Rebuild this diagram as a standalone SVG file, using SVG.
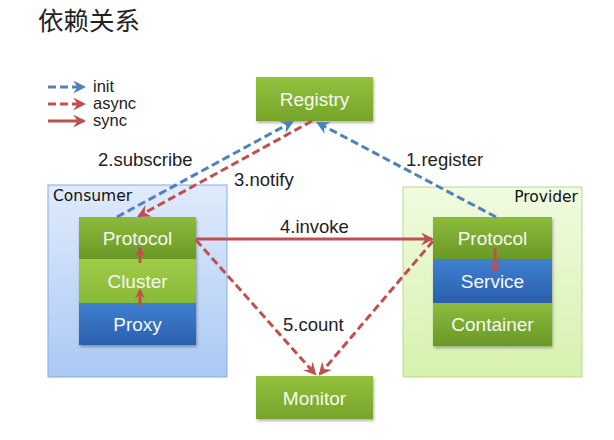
<svg xmlns="http://www.w3.org/2000/svg" width="614" height="440" viewBox="0 0 614 440">
<style>
  .lbl{font-family:"Liberation Sans",Arial,sans-serif;font-size:18.5px;fill:#222}
  .leg{font-family:"Liberation Sans",Arial,sans-serif;font-size:16.5px;fill:#222}
  .wt{font-family:"Liberation Sans",Arial,sans-serif;font-size:19px;fill:#f6f9f0;text-anchor:middle}
  .grp{font-family:"DejaVu Sans","Liberation Sans",sans-serif;font-size:15.5px;fill:#111}
  .blue{stroke:#4f81bd;stroke-width:3;fill:none;stroke-dasharray:8 4}
  .redd{stroke:#c0504d;stroke-width:3;fill:none;stroke-dasharray:8 4}
  .reds{stroke:#c0504d;stroke-width:3;fill:none}
</style>
<defs>
  <linearGradient id="gG" x1="0" y1="0" x2="0" y2="1"><stop offset="0" stop-color="#93c13c"/><stop offset="1" stop-color="#76a42b"/></linearGradient>
  <linearGradient id="gD" x1="0" y1="0" x2="0" y2="1"><stop offset="0" stop-color="#8cbb3c"/><stop offset="1" stop-color="#6a9827"/></linearGradient>
  <linearGradient id="gL" x1="0" y1="0" x2="0" y2="1"><stop offset="0" stop-color="#a0cc48"/><stop offset="1" stop-color="#88b837"/></linearGradient>
  <linearGradient id="gB" x1="0" y1="0" x2="0" y2="1"><stop offset="0" stop-color="#3f80d0"/><stop offset="1" stop-color="#2a5fad"/></linearGradient>
  <linearGradient id="gC" x1="0" y1="0" x2="0" y2="1"><stop offset="0" stop-color="#e0ebfc"/><stop offset="1" stop-color="#abc9f4"/></linearGradient>
  <linearGradient id="gP" x1="0" y1="0" x2="0" y2="1"><stop offset="0" stop-color="#f0fbe0"/><stop offset="1" stop-color="#d6f1ad"/></linearGradient>
  <filter id="sh" x="-10%" y="-10%" width="130%" height="140%"><feDropShadow dx="1" dy="2" stdDeviation="1.5" flood-color="#000" flood-opacity="0.3"/></filter>
  <marker id="aB" viewBox="0 0 12 12" refX="10" refY="6" markerWidth="13" markerHeight="13" markerUnits="userSpaceOnUse" orient="auto"><path d="M0,0 L12,6 L0,12 L4,6 z" fill="#4f81bd"/></marker>
  <marker id="aR" viewBox="0 0 12 12" refX="10" refY="6" markerWidth="13" markerHeight="13" markerUnits="userSpaceOnUse" orient="auto"><path d="M0,0 L12,6 L0,12 L4,6 z" fill="#c0504d"/></marker>
  <marker id="aRs" viewBox="0 0 12 12" refX="10" refY="6" markerWidth="10" markerHeight="10" markerUnits="userSpaceOnUse" orient="auto"><path d="M0,0 L12,6 L0,12 L4,6 z" fill="#c0504d"/></marker>
</defs>
<rect width="614" height="440" fill="#fff"/>
<text x="38" y="30" font-family="'Noto Sans CJK SC',sans-serif" font-size="25.5" fill="#222">依赖关系</text>

<g id="legend">
  <line class="blue" x1="48" y1="87" x2="84" y2="87" marker-end="url(#aB)"/>
  <line class="redd" x1="48" y1="104" x2="84" y2="104" marker-end="url(#aR)"/>
  <line class="reds" x1="48" y1="121" x2="84" y2="121" marker-end="url(#aR)"/>
  <text class="leg" x="93" y="92">init</text>
  <text class="leg" x="93" y="109">async</text>
  <text class="leg" x="93" y="126">sync</text>
</g>

<g id="consumer">
  <rect x="48" y="185" width="179" height="192" fill="url(#gC)" stroke="#86ace0" stroke-width="1"/>
  <text class="grp" x="53" y="201">Consumer</text>
  <g filter="url(#sh)">
    <rect x="79" y="217" width="117" height="42" fill="url(#gD)"/>
    <rect x="79" y="259" width="117" height="44" fill="url(#gL)"/>
    <rect x="79" y="303" width="117" height="42" fill="url(#gB)"/>
  </g>
  <text class="wt" x="137.5" y="245">Protocol</text>
  <text class="wt" x="137.5" y="288">Cluster</text>
  <text class="wt" x="137.5" y="331">Proxy</text>
</g>

<g id="provider">
  <rect x="403" y="187" width="179" height="190" fill="url(#gP)" stroke="#b9da92" stroke-width="1"/>
  <text class="grp" x="578" y="202" text-anchor="end">Provider</text>
  <g filter="url(#sh)">
    <rect x="433" y="217" width="119" height="42" fill="url(#gD)"/>
    <rect x="433" y="259" width="119" height="44" fill="url(#gB)"/>
    <rect x="433" y="303" width="119" height="43" fill="url(#gD)"/>
  </g>
  <text class="wt" x="492.5" y="245">Protocol</text>
  <text class="wt" x="492.5" y="288">Service</text>
  <text class="wt" x="492.5" y="331">Container</text>
</g>

<g id="registry">
  <rect x="256" y="77" width="117" height="44" fill="url(#gG)" filter="url(#sh)"/>
  <text class="wt" x="314.5" y="106">Registry</text>
</g>

<g id="monitor">
  <rect x="256" y="376" width="117" height="43" fill="url(#gG)" filter="url(#sh)"/>
  <text class="wt" x="314.5" y="405">Monitor</text>
</g>

<g id="connectors">
  <line class="blue" x1="117" y1="217" x2="292" y2="122" marker-end="url(#aB)"/>
  <line class="redd" x1="312" y1="121" x2="139" y2="216" marker-end="url(#aR)"/>
  <line class="blue" x1="496" y1="217" x2="318" y2="123" marker-end="url(#aB)"/>
  <line class="reds" x1="196" y1="239" x2="432" y2="239" marker-end="url(#aR)"/>
  <line class="redd" x1="196" y1="240" x2="315" y2="374" marker-end="url(#aR)"/>
  <line class="redd" x1="433" y1="241" x2="320" y2="374" marker-end="url(#aR)"/>
  <line class="reds" x1="140" y1="306" x2="140" y2="290" marker-end="url(#aRs)"/>
  <line class="reds" x1="140" y1="263" x2="140" y2="248" marker-end="url(#aRs)"/>
  <line class="reds" x1="495" y1="248" x2="495" y2="272" marker-end="url(#aRs)"/>
  <text class="lbl" x="98" y="166">2.subscribe</text>
  <text class="lbl" x="234" y="186">3.notify</text>
  <text class="lbl" x="406" y="166">1.register</text>
  <text class="lbl" x="280" y="233">4.invoke</text>
  <text class="lbl" x="283" y="331">5.count</text>
</g>
</svg>
